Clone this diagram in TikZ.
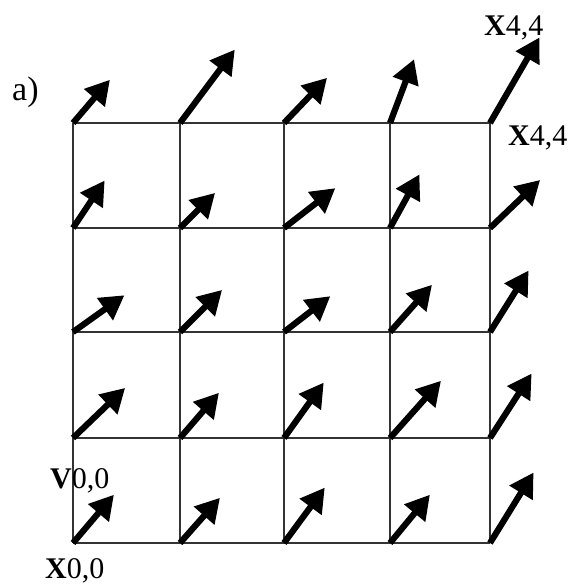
\documentclass[tikz,border=0pt]{standalone}
\usepackage{fontspec}
\setmainfont{Liberation Serif}
\usetikzlibrary{arrows.meta}
\begin{document}
\begin{tikzpicture}[x=1pt,y=-1pt,
  gridline/.style={line width=1.8pt,draw=black!80},
  vec/.style={line width=6.2pt,-{Triangle[length=24pt,width=26pt]},shorten >=-3pt},
  lbl/.style={anchor=base west,inner sep=0pt,font=\fontsize{30}{34}\selectfont}]
\useasboundingbox (0,0) rectangle (577,584);
% grid points
\foreach \xi/\xx in {0/73,1/180,2/284,3/390,4/490}{
  \foreach \yi/\yy in {0/543,1/438,2/332,3/228,4/123}{
    \coordinate (p-\xi-\yi) at (\xx,\yy);
  }
}
% grid lines
\foreach \k in {0,...,4}{
  \draw[gridline] (p-0-\k) -- (p-4-\k);
  \draw[gridline] (p-\k-0) -- (p-\k-4);
}
% arrow tips
\foreach \xi/\yi/\tx/\ty in {
  0/0/112/497, 1/0/218/500, 2/0/323/490, 3/0/428/497, 4/0/532/475,
  0/1/123/390, 1/1/217/395, 2/1/322/385, 3/1/439/383, 4/1/530/376,
  0/2/122/297, 1/2/220/292, 2/2/328/298, 3/2/430/287, 4/2/527/273,
  0/3/103/183, 1/3/213/195, 2/3/333/190, 3/3/418/177, 4/3/538/182,
  0/4/108/82,  1/4/233/52,  2/4/325/80,  3/4/413/62,  4/4/538/40}{
  \coordinate (t-\xi-\yi) at (\tx,\ty);
  \draw[vec] (p-\xi-\yi) -- (t-\xi-\yi);
}
% labels
\node[lbl,font=\fontsize{34}{38}\selectfont] (la) at (12,100) {a)};
\node[lbl] (lx44a) at (484,35) {\textbf{X}4,4};
\node[lbl] (lx44b) at (508,145) {\textbf{X}4,4};
\node[lbl] (lv00) at (50,488) {\textbf{V}0,0};
\node[lbl] (lx00) at (45,578) {\textbf{X}0,0};
\end{tikzpicture}
\end{document}
